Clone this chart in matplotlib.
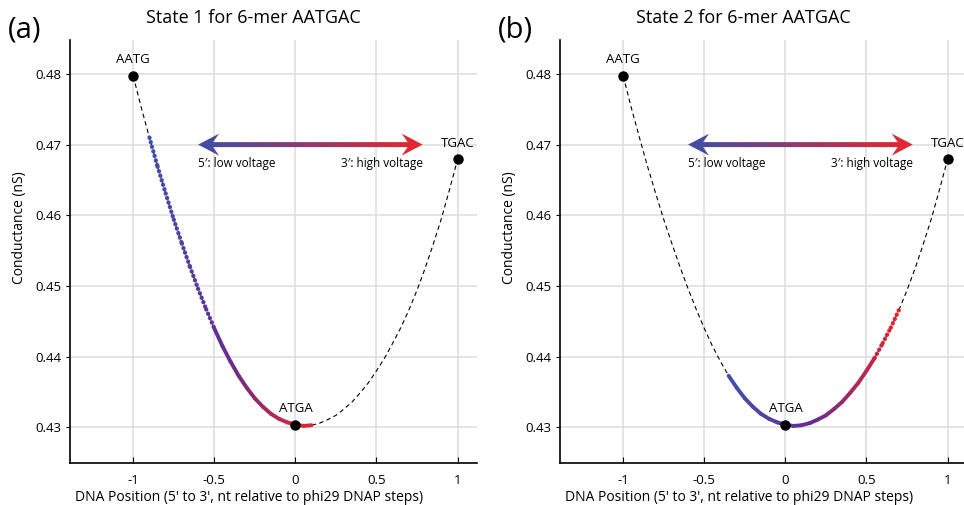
import numpy as np
import matplotlib
matplotlib.use('Agg')
import matplotlib.pyplot as plt
from matplotlib.collections import LineCollection
from matplotlib.colors import LinearSegmentedColormap
from matplotlib.patches import Polygon

plt.rcParams['font.family'] = ['Open Sans', 'DejaVu Sans']

# conductance curve (DNA position, nS)
curve_x = [-1.00, -0.95, -0.90, -0.85, -0.80, -0.75, -0.70, -0.65, -0.60, -0.55,
           -0.50, -0.45, -0.40, -0.35, -0.30, -0.25, -0.20, -0.15, -0.10, -0.05,
           0.00, 0.05, 0.10, 0.15, 0.20, 0.25, 0.30, 0.35, 0.40, 0.45,
           0.50, 0.55, 0.60, 0.65, 0.70, 0.75, 0.80, 0.85, 0.90, 0.95, 1.00]
curve_y = [0.4797, 0.4752, 0.4710, 0.4669, 0.4631, 0.4594, 0.4560, 0.4527, 0.4496, 0.4467,
           0.4440, 0.4415, 0.4393, 0.4373, 0.4356, 0.4341, 0.4329, 0.4319, 0.4312, 0.4307,
           0.4304, 0.4302, 0.4303, 0.4306, 0.4311, 0.4317, 0.4326, 0.4336, 0.4349, 0.4363,
           0.4380, 0.4398, 0.4419, 0.4441, 0.4466, 0.4494, 0.4525, 0.4559, 0.4595, 0.4636, 0.4679]

kmer_labels = ['AATG', 'ATGA', 'TGAC']
kmer_x = [-1.0, 0.0, 1.0]
kmer_y = [0.4797, 0.4304, 0.4679]

titles = ['State 1 for 6-mer AATGAC', 'State 2 for 6-mer AATGAC']
panel_tags = ['(a)', '(b)']
# observed stretch of the curve for each state, and where it is sparse (dotted)
state_span = [(-0.90, 0.10), (-0.35, 0.70)]
state_sparse = [(-0.90, -0.50), (0.55, 0.70)]

xticks = [-1, -0.5, 0, 0.5, 1]
xtick_labels = ['-1', '-0.5', '0', '0.5', '1']
yticks = [0.43, 0.44, 0.45, 0.46, 0.47, 0.48]

curve_cmap = LinearSegmentedColormap.from_list('c', ['#3f52b0', '#6a2b90', '#e8262a'])
arrow_cmap = LinearSegmentedColormap.from_list('a', ['#3d4fa6', '#e8262d'])

W, H = 964, 505
fig = plt.figure(figsize=(W / 100, H / 100), dpi=100)
ax_lefts = [70, 560]


def gradient_arrow(ax, x0, x1, y):
    # double headed arrow built in pixel space, filled with a left-to-right gradient
    p0 = ax.transData.transform((x0, y))
    p1 = ax.transData.transform((x1, y))
    hl, hw, nb, sw = 21, 11, 15, 2.5
    px = [p0[0], p0[0] + hl, p0[0] + nb, p1[0] - nb, p1[0] - hl, p1[0],
          p1[0] - hl, p1[0] - nb, p0[0] + nb, p0[0] + hl]
    py = [0, hw, sw, sw, hw, 0, -hw, -sw, -sw, -hw]
    verts = np.column_stack([px, np.array(py) + p0[1]])
    verts = ax.transData.inverted().transform(verts)
    poly = Polygon(verts, closed=True, facecolor='none', edgecolor='none')
    ax.add_patch(poly)
    grad = np.linspace(0, 1, 256).reshape(1, -1)
    ymin, ymax = verts[:, 1].min(), verts[:, 1].max()
    im = ax.imshow(grad, cmap=arrow_cmap, extent=[x0, x1, ymin, ymax],
                   aspect='auto', origin='lower', zorder=3)
    im.set_clip_path(poly)


for i in range(2):
    ax = fig.add_axes([ax_lefts[i] / W, 42.3 / H, 407 / W, 422.7 / H])
    ax.set_xlim(-1.39, 1.12)
    ax.set_ylim(0.425, 0.4848)
    for s in ['top', 'right']:
        ax.spines[s].set_visible(False)
    for s in ['left', 'bottom']:
        ax.spines[s].set_linewidth(1.2)
    ax.set_xticks(xticks)
    ax.set_xticklabels(xtick_labels)
    ax.set_yticks(yticks)
    ax.set_yticklabels(['%.2f' % v for v in yticks])
    ax.tick_params(axis='x', direction='in', length=4, width=0.8, labelsize=9.5, pad=8)
    ax.tick_params(axis='y', direction='out', length=3, width=0.8, labelsize=9.5, pad=3)
    ax.grid(True, color='#dddddd', lw=1.1, zorder=0)
    ax.set_axisbelow(True)

    ax.plot(curve_x, curve_y, color='black', lw=0.8, dashes=(4, 3), zorder=2)

    # coloured observed stretch, blue (5') to red (3') along x
    cx = np.array(curve_x)
    cy = np.array(curve_y)
    lo, hi = state_span[i]
    sel = (cx >= lo - 1e-9) & (cx <= hi + 1e-9)
    sx, sy = cx[sel], cy[sel]
    mids = ((sx[:-1] + sx[1:]) / 2 - lo) / (hi - lo)
    segs = [[(sx[k], sy[k]), (sx[k + 1], sy[k + 1])] for k in range(len(sx) - 1)]
    slo, shi = state_sparse[i]
    styles = []
    widths = []
    for k in range(len(segs)):
        xm = (segs[k][0][0] + segs[k][1][0]) / 2
        if slo <= xm <= shi:
            styles.append((0, (0.05, 1.05)))
            widths.append(3.1)
        else:
            styles.append('solid')
            widths.append(2.8)
    lc = LineCollection(segs, colors=curve_cmap(mids), linewidths=widths,
                        linestyles=styles, capstyle='round', zorder=3)
    ax.add_collection(lc)

    ax.plot(kmer_x, kmer_y, 'o', color='black', ms=6.5, zorder=5)
    for lab, x, y in zip(kmer_labels, kmer_x, kmer_y):
        ax.annotate(lab, (x, y), xytext=(0, 7), textcoords='offset points',
                    ha='center', va='bottom', fontsize=9.5, zorder=6,
                    annotation_clip=False)

    gradient_arrow(ax, -0.60, 0.785, 0.47)
    ax.text(-0.60, 0.4673, '5\u2032: low voltage', ha='left', va='center', fontsize=8.5)
    ax.text(0.785, 0.4673, '3\u2032: high voltage', ha='right', va='center', fontsize=8.5)

    ax.set_xlim(-1.39, 1.12)
    ax.set_ylim(0.425, 0.4848)

    ax.set_title(titles[i], fontsize=13, x=0.45, y=1.02)
    ax.set_xlabel("DNA Position (5' to 3', nt relative to phi29 DNAP steps)", fontsize=10)
    ax.xaxis.label.set_va('center')
    ax.xaxis.set_label_coords(0.44, -0.082)
    ax.set_ylabel('Conductance (nS)', fontsize=10)
    ax.yaxis.set_label_coords(-0.105, 0.555)

    fig.text((ax_lefts[i] - 62) / W, 1 - 30 / H, panel_tags[i], fontsize=21,
             ha='left', va='center')

fig.savefig('out.png', dpi=100)
